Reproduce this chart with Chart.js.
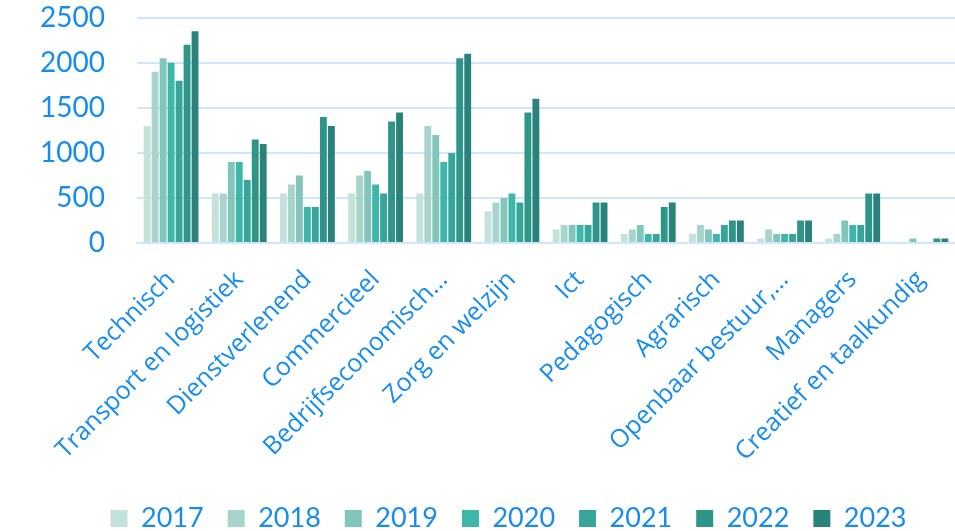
<!DOCTYPE html>
<html>
<head>
<meta charset="utf-8">
<script src="https://cdn.jsdelivr.net/npm/chart.js@4"></script>
<style>
  html, body { margin: 0; padding: 0; background: #fff; }
  #wrap { width: 955px; height: 531px; }
</style>
</head>
<body>
<div id="wrap"><canvas id="vacaturesChart"></canvas></div>
<script>
var beroepen = ['Technisch', 'Transport en logistiek', 'Dienstverlenend', 'Commercieel',
    'Bedrijfseconomisch…', 'Zorg en welzijn', 'Ict', 'Pedagogisch', 'Agrarisch',
    'Openbaar bestuur,…', 'Managers', 'Creatief en taalkundig'];
var jaren = ['2017', '2018', '2019', '2020', '2021', '2022', '2023'];

var waarden2017 = [1300, 550, 550, 550, 550, 350, 150, 100, 100, 50, 50, 0];
var waarden2018 = [1900, 550, 650, 750, 1300, 450, 200, 150, 200, 150, 100, 0];
var waarden2019 = [2050, 900, 750, 800, 1200, 500, 200, 200, 150, 100, 250, 50];
var waarden2020 = [2000, 900, 400, 650, 900, 550, 200, 100, 100, 100, 200, 0];
var waarden2021 = [1800, 700, 400, 550, 1000, 450, 200, 100, 200, 100, 200, 0];
var waarden2022 = [2200, 1150, 1400, 1350, 2050, 1450, 450, 400, 250, 250, 550, 50];
var waarden2023 = [2350, 1100, 1300, 1450, 2100, 1600, 450, 450, 250, 250, 550, 50];

var reeksen = [waarden2017, waarden2018, waarden2019, waarden2020, waarden2021, waarden2022, waarden2023];
var kleuren = ['#c4e2dc', '#a7d5cc', '#82c6bb', '#3db7aa', '#37a69a', '#2e9589', '#29837a'];
var blauw = '#168cf2';

var datasets = jaren.map(function(jaar, i) {
    return {
        label: jaar,
        data: reeksen[i],
        backgroundColor: kleuren[i],
        borderWidth: 0,
        categoryPercentage: 0.82,
        barPercentage: 0.86
    };
});

// legenda iets naar rechts en naar beneden schuiven, zoals in het origineel
var legendaVerschuiving = {
    id: 'legendaVerschuiving',
    afterLayout: function(chart) {
        chart.legend.left += 31;
        chart.legend.right += 31;
        chart.legend.top += 11;
        chart.legend.bottom += 11;
    }
};

var ctx = document.getElementById('vacaturesChart').getContext('2d');
var chart = new Chart(ctx, {
    type: 'bar',
    data: {
        labels: beroepen,
        datasets: datasets
    },
    plugins: [legendaVerschuiving],
    options: {
        responsive: true,
        maintainAspectRatio: false,
        animation: false,
        layout: {
            padding: 0
        },
        scales: {
            x: {
                grid: { display: false, drawTicks: false },
                border: { display: true, color: '#cfe6fb', width: 2 },
                ticks: {
                    color: blauw,
                    font: { family: 'Open Sans', size: 25 },
                    minRotation: 45,
                    maxRotation: 45,
                    autoSkip: false,
                    padding: 22
                },
                afterFit: function(scale) {
                    scale.height = 227;
                    scale.paddingLeft = 0;
                    scale.paddingRight = 0;
                }
            },
            y: {
                min: 0,
                max: 2500,
                grid: { color: '#cfe6fb', lineWidth: 2, drawTicks: true, tickLength: 31, tickColor: 'rgba(0,0,0,0)' },
                border: { display: false },
                ticks: {
                    stepSize: 500,
                    autoSkip: false,
                    color: blauw,
                    font: { family: 'Lato', size: 28 },
                    padding: 1,
                    callback: function(v) { return String(v); }
                },
                afterFit: function(scale) { scale.width = 137; }
            }
        },
        plugins: {
            legend: {
                position: 'bottom',
                labels: {
                    color: blauw,
                    font: { family: 'Lato', size: 27 },
                    boxWidth: 17,
                    boxHeight: 17,
                    padding: 24
                }
            },
            tooltip: { enabled: false }
        }
    }
});
</script>
</body>
</html>
